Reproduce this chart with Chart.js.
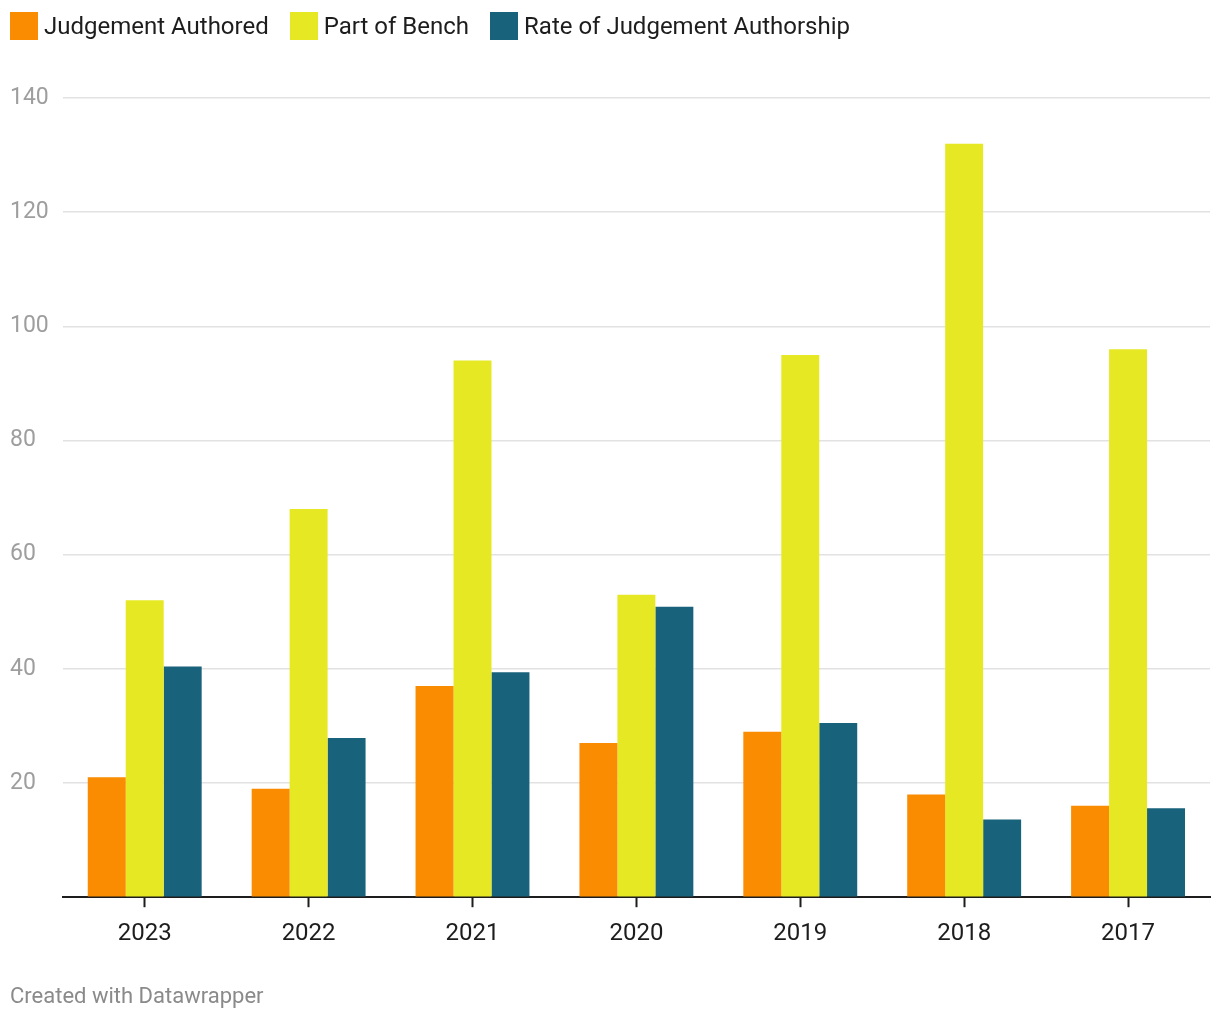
<!DOCTYPE html>
<html lang="en">
<head>
  <meta charset="UTF-8">
  <title>Judgement Authorship</title>
  <script src="https://cdn.jsdelivr.net/npm/chart.js"></script>
  <style>
    body {
      margin: 0;
      background: #fff;
      font-family: Roboto, sans-serif;
    }
    #legend {
      position: absolute;
      top: 12px;
      left: 10px;
      display: flex;
      align-items: center;
    }
    .item {
      display: flex;
      align-items: center;
      margin-right: 21px;
      font-size: 24px;
      color: #1d1d1d;
    }
    .swatch {
      width: 28px;
      height: 28px;
      margin-right: 6px;
    }
    #wrap {
      position: absolute;
      left: 0;
      top: 0;
      width: 1220px;
      height: 1020px;
    }
    #credit {
      position: absolute;
      left: 10px;
      top: 983px;
      font-size: 22px;
      color: #8a8a8a;
    }
  </style>
</head>
<body>
  <div id="wrap"><canvas id="chart"></canvas></div>
  <div id="legend"></div>
  <div id="credit">Created with Datawrapper</div>

  <script>
    const years = ['2023', '2022', '2021', '2020', '2019', '2018', '2017'];
    const authored = [21, 19, 37, 27, 29, 18, 16];
    const bench = [52, 68, 94, 53, 95, 132, 96];
    const rate = [40.4, 27.9, 39.4, 50.9, 30.5, 13.6, 15.6];
    const yTicks = [20, 40, 60, 80, 100, 120, 140];

    const seriesNames = ['Judgement Authored', 'Part of Bench', 'Rate of Judgement Authorship'];
    const seriesColors = ['#f98c00', '#e6e824', '#18627b'];
    const seriesData = [authored, bench, rate];

    const legend = document.getElementById('legend');
    seriesNames.forEach((name, i) => {
      const item = document.createElement('div');
      item.className = 'item';
      const sw = document.createElement('span');
      sw.className = 'swatch';
      sw.style.background = seriesColors[i];
      item.appendChild(sw);
      item.appendChild(document.createTextNode(name));
      legend.appendChild(item);
    });

    const ctx = document.getElementById('chart').getContext('2d');
    new Chart(ctx, {
      type: 'bar',
      data: {
        labels: years,
        datasets: seriesNames.map((name, i) => ({
          label: name,
          data: seriesData[i],
          backgroundColor: seriesColors[i],
          borderWidth: 0
        }))
      },
      options: {
        responsive: true,
        maintainAspectRatio: false,
        animation: false,
        categoryPercentage: 0.695,
        barPercentage: 1.0,
        layout: {
          padding: { top: 98, right: 10, bottom: 60, left: 10 }
        },
        plugins: {
          legend: { display: false },
          tooltip: { enabled: false }
        },
        scales: {
          x: {
            grid: {
              offset: false,
              drawOnChartArea: false,
              drawTicks: true,
              tickLength: 10,
              tickWidth: 2,
              tickColor: '#1d1d1d'
            },
            border: { display: true, color: '#1d1d1d', width: 2 },
            ticks: {
              color: '#1d1d1d',
              font: { family: 'Roboto', size: 24 },
              padding: 12
            }
          },
          y: {
            min: 0,
            max: 140,
            afterBuildTicks: (axis) => {
              axis.ticks = [{ value: 0 }].concat(yTicks.map(v => ({ value: v })));
            },
            grid: {
              color: '#e2e2e2',
              lineWidth: 1.5,
              drawTicks: false
            },
            border: { display: false },
            ticks: {
              color: '#9e9e9e',
              crossAlign: 'far',
              padding: 7,
              font: { family: 'Roboto', size: 23 },
              callback: (v) => v === 0 ? '' : v
            }
          }
        }
      }
    });
  </script>
</body>
</html>
